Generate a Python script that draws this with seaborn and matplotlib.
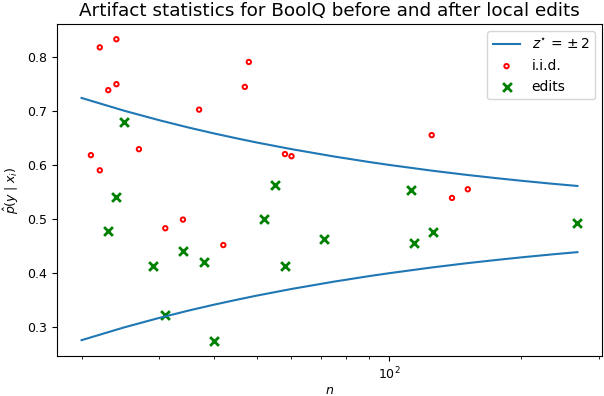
import matplotlib
matplotlib.use("Agg")
import matplotlib.pyplot as plt
import seaborn as sns

# Confidence band  z* = +-2 around 0.5
curve_n = [20, 25, 30, 35, 40, 45, 50, 60, 75, 90, 100, 125, 150, 175, 200, 235, 268]
curve_upper = [0.7236, 0.7000, 0.6826, 0.6690, 0.6581, 0.6491, 0.6414, 0.6291, 0.6155,
               0.6054, 0.6000, 0.5894, 0.5816, 0.5756, 0.5707, 0.5652, 0.5611]
curve_lower = [0.2764, 0.3000, 0.3174, 0.3310, 0.3419, 0.3509, 0.3586, 0.3709, 0.3845,
               0.3946, 0.4000, 0.4106, 0.4184, 0.4244, 0.4293, 0.4348, 0.4389]

# i.i.d. points
iid_n = [21, 22, 24, 23, 24, 22, 27, 37, 47, 48, 58, 60, 31, 34, 42, 125, 139, 151]
iid_p = [0.618, 0.817, 0.832, 0.738, 0.749, 0.590, 0.629, 0.702, 0.744, 0.790,
         0.620, 0.616, 0.483, 0.499, 0.452, 0.655, 0.539, 0.555]

# points after local edits
edits_n = [25, 24, 55, 23, 29, 31, 34, 38, 40, 52, 58, 71, 112, 114, 126, 267]
edits_p = [0.679, 0.541, 0.563, 0.478, 0.413, 0.323, 0.441, 0.421, 0.275, 0.500,
           0.413, 0.464, 0.553, 0.456, 0.476, 0.492]

fig, ax = plt.subplots(figsize=(6.04, 3.96), dpi=100)
fig.subplots_adjust(left=0.094, right=0.997, top=0.939, bottom=0.101)

sns.lineplot(x=curve_n, y=curve_upper, ax=ax, color="#1f77b4", linewidth=1.5,
             label=r"$z^{\star}$ = $\pm\,2$")
sns.lineplot(x=curve_n, y=curve_lower, ax=ax, color="#1f77b4", linewidth=1.5)
sns.scatterplot(x=iid_n, y=iid_p, ax=ax, marker="o", s=10, facecolor="none",
                edgecolor="red", linewidth=1.4, label="i.i.d.")
sns.scatterplot(x=edits_n, y=edits_p, ax=ax, marker="x", s=40, color="green",
                linewidth=2, label="edits")

ax.set_xscale("log")
ax.tick_params(axis="both", which="both", labelsize=9)
ax.set_xlabel(r"$n$", fontsize=9, labelpad=1)
ax.set_ylabel(r"$\hat{p}(y \mid x_i)$", fontsize=9, labelpad=4)
ax.set_title("Artifact statistics for BoolQ before and after local edits", fontsize=13.2)
ax.legend(loc="upper right", fontsize=10)

plt.savefig("out.png")
